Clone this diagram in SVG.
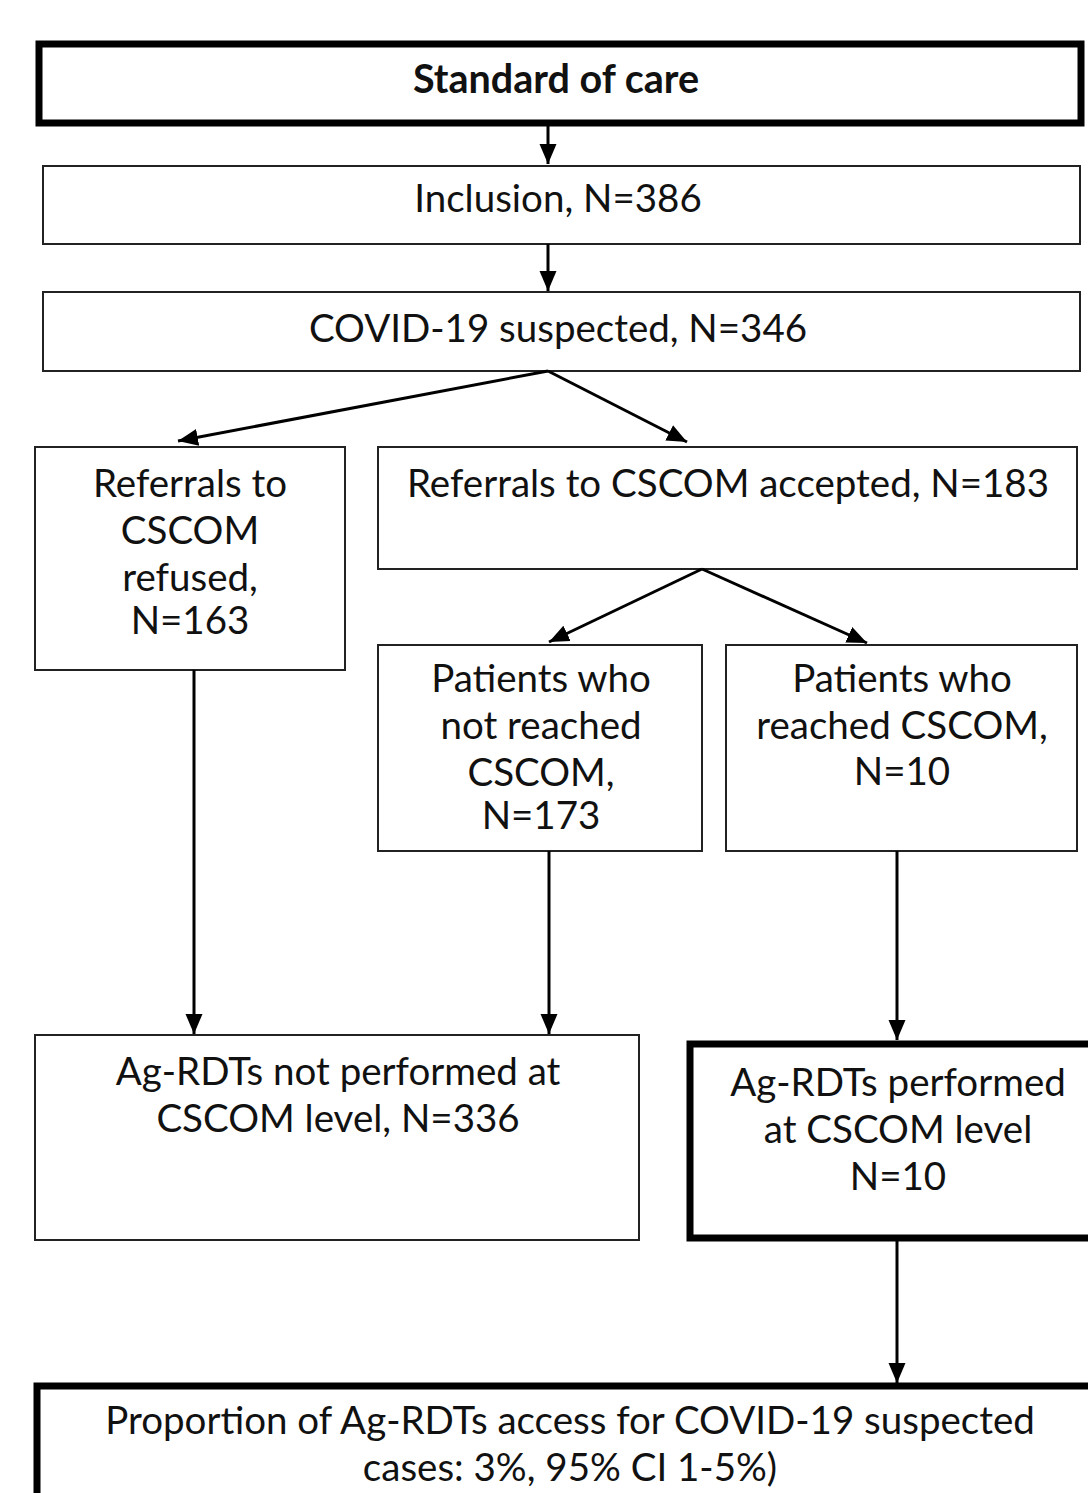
<svg xmlns="http://www.w3.org/2000/svg" width="1088" height="1493" viewBox="0 0 1088 1493">
<defs>
<style>
.t{font-family:Lato,"Open Sans","Liberation Sans",sans-serif;font-size:38.5px;fill:#111;text-anchor:middle}
.b{font-weight:bold;font-size:39.5px}
.thin{fill:#fff;stroke:#222;stroke-width:2}
.thick{fill:#fff;stroke:#000;stroke-width:7}
.c{stroke:#000;stroke-width:3;fill:none}
</style>
<marker id="ah" markerUnits="userSpaceOnUse" markerWidth="22" markerHeight="22" viewBox="0 0 22 22" refX="20" refY="11" orient="auto">
<path d="M0,2.5 L20,11 L0,19.5 Z" fill="#000"/>
</marker>
</defs>
<rect width="1088" height="1493" fill="#fff"/>
<g id="n1"><rect class="thick" x="39" y="44" width="1042" height="79"/><text class="t b" x="556" y="93">Standard of care</text></g>
<g id="n2"><rect class="thin" x="43" y="166" width="1037" height="78"/><text class="t" x="558" y="212">Inclusion, N=386</text></g>
<g id="n3"><rect class="thin" x="43" y="292" width="1037" height="79"/><text class="t" x="558" y="342">COVID-19 suspected, N=346</text></g>
<g id="n4"><rect class="thin" x="35" y="447" width="310" height="223"/>
<text class="t" x="190" y="497">Referrals to</text><text class="t" x="190" y="544">CSCOM</text><text class="t" x="190" y="591">refused,</text><text class="t" x="190" y="634">N=163</text></g>
<g id="n5"><rect class="thin" x="378" y="447" width="699" height="122"/><text class="t" x="728" y="497">Referrals to CSCOM accepted, N=183</text></g>
<g id="n6"><rect class="thin" x="378" y="645" width="324" height="206"/>
<text class="t" x="541" y="692">Patients who</text><text class="t" x="541" y="739">not reached</text><text class="t" x="541" y="786">CSCOM,</text><text class="t" x="541" y="829">N=173</text></g>
<g id="n7"><rect class="thin" x="726" y="645" width="351" height="206"/>
<text class="t" x="902" y="692">Patients who</text><text class="t" x="902" y="739">reached CSCOM,</text><text class="t" x="902" y="785">N=10</text></g>
<g id="n8"><rect class="thin" x="35" y="1035" width="604" height="205"/>
<text class="t" x="338" y="1085">Ag-RDTs not performed at</text><text class="t" x="338" y="1132">CSCOM level, N=336</text></g>
<g id="n9"><rect class="thick" x="690" y="1044" width="410" height="194"/>
<text class="t" x="898" y="1096">Ag-RDTs performed</text><text class="t" x="898" y="1143">at CSCOM level</text><text class="t" x="898" y="1190">N=10</text></g>
<g id="n10"><rect class="thick" x="37" y="1386" width="1070" height="130"/>
<text class="t" x="570" y="1434">Proportion of Ag-RDTs access for COVID-19 suspected</text><text class="t" x="570" y="1481">cases: 3%, 95% CI 1-5%)</text></g>
<g id="connectors">
<line class="c" x1="548" y1="126" x2="548" y2="164" marker-end="url(#ah)"/>
<line class="c" x1="548" y1="244" x2="548" y2="291" marker-end="url(#ah)"/>
<line class="c" x1="548" y1="371" x2="178" y2="441" marker-end="url(#ah)"/>
<line class="c" x1="548" y1="371" x2="687" y2="442" marker-end="url(#ah)"/>
<line class="c" x1="702" y1="569" x2="549" y2="642" marker-end="url(#ah)"/>
<line class="c" x1="702" y1="569" x2="867" y2="643" marker-end="url(#ah)"/>
<line class="c" x1="194" y1="670" x2="194" y2="1034" marker-end="url(#ah)"/>
<line class="c" x1="549" y1="851" x2="549" y2="1034" marker-end="url(#ah)"/>
<line class="c" x1="897" y1="851" x2="897" y2="1040" marker-end="url(#ah)"/>
<line class="c" x1="897" y1="1241" x2="897" y2="1383" marker-end="url(#ah)"/>
</g>
</svg>
